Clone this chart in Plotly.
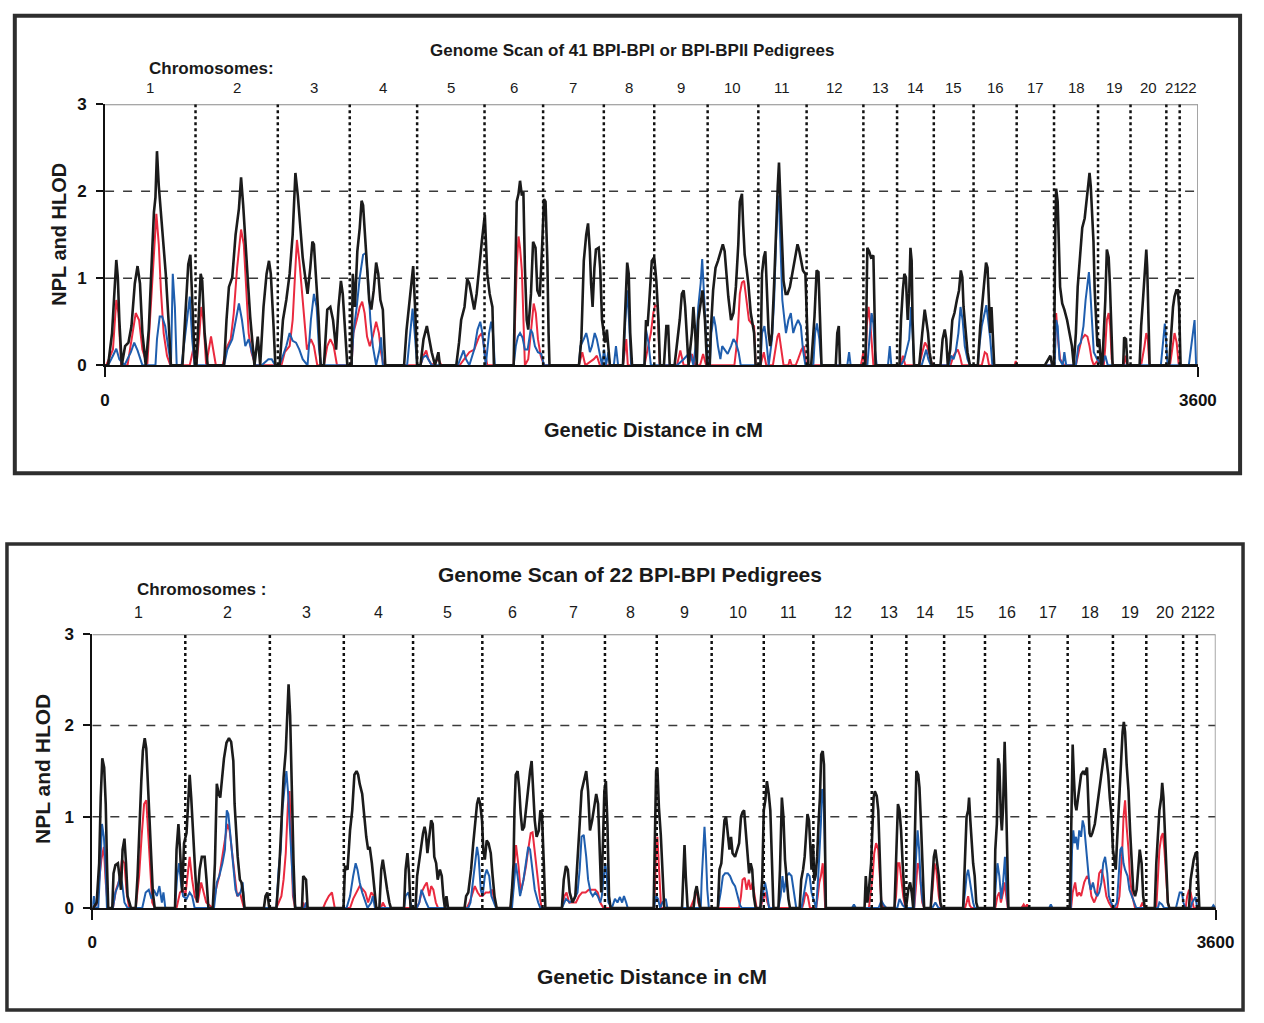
import plotly.graph_objects as go

# ---------------- data ----------------
CHROMOSOMES = [str(i) for i in range(1, 23)]
# chromosome boundaries in cM along the genome (0 .. 3600)
CHR_BOUNDS = [0, 298, 569, 806, 1028, 1250, 1443, 1643, 1809, 1985, 2152, 2311,
              2498, 2609, 2730, 2861, 3003, 3126, 3271, 3378, 3496, 3540, 3600]
Y_TICKS = [0, 1, 2, 3]
X_TICKS = [0, 3600]

# ---- Panel 1: 41 BPI-BPI or BPI-BPII pedigrees (cM, score) ----
TOP_BLACK = [
    (0, 0), (10, 0), (23, 0.37), (31, 0.82), (37, 1.21), (42, 1.01), (47, 0.52), (55, 0), (66, 0.22), (77, 0.26),
    (87, 0.45), (98, 0.94), (107, 1.14), (115, 0.94), (123, 0.37), (134, 0), (144, 0.41), (152, 1.05), (161, 1.76),
    (166, 1.93), (171, 2.46), (177, 2.06), (184, 1.76), (193, 1.39), (200, 1.05), (209, 0.52), (217, 0), (255, 0),
    (263, 0.52), (274, 1.16), (281, 1.27), (290, 0.52), (296, 0), (301, 0), (308, 0.52), (315, 1.05), (320, 0.97),
    (328, 0.37), (338, 0), (392, 0), (400, 0.52), (408, 0.9), (419, 1.01), (430, 1.5), (441, 1.8), (448, 2.16),
    (455, 1.84), (462, 1.39), (471, 0.94), (478, 0.56), (484, 0.3), (492, 0), (503, 0.33), (511, 0), (522, 0.67),
    (532, 1.05), (540, 1.2), (546, 1.05), (554, 0.52), (561, 0), (575, 0), (586, 0.52), (597, 0.75), (608, 1.05),
    (618, 1.5), (627, 2.21), (635, 1.95), (642, 1.61), (651, 1.24), (658, 1.05), (667, 0.82), (676, 1.12),
    (683, 1.42), (688, 1.39), (696, 0.94), (703, 0.56), (710, 0), (721, 0), (732, 0.64), (742, 0.67), (751, 0.52),
    (761, 0.18), (769, 0.67), (777, 0.97), (783, 0.82), (791, 0.37), (798, 0), (812, 0), (816, 1.05), (823, 0.67),
    (831, 1.31), (839, 1.58), (845, 1.89), (850, 1.84), (856, 1.5), (861, 1.24), (870, 0.75), (877, 0.64),
    (885, 0.86), (893, 1.18), (900, 1.05), (907, 0.75), (915, 0.64), (923, 0), (985, 0), (993, 0.4), (1005, 0.8),
    (1015, 1.14), (1022, 0.6), (1028, 0), (1039, 0), (1049, 0.3), (1060, 0.45), (1068, 0.3), (1076, 0.15),
    (1087, 0), (1098, 0.15), (1103, 0), (1157, 0), (1166, 0.26), (1173, 0.52), (1184, 0.67), (1193, 0.99),
    (1200, 0.94), (1209, 0.75), (1216, 0.64), (1224, 0.82), (1232, 1.12), (1241, 1.42), (1251, 1.73),
    (1259, 1.05), (1267, 0.82), (1276, 0.67), (1281, 0), (1346, 0), (1351, 0.94), (1356, 1.88), (1362, 1.97),
    (1367, 2.12), (1373, 1.95), (1378, 1.99), (1383, 1.12), (1389, 0.52), (1394, 0.41), (1403, 0.82),
    (1410, 1.42), (1418, 1.35), (1424, 0.86), (1432, 0.79), (1439, 1.31), (1446, 1.91), (1451, 1.88),
    (1457, 1.2), (1461, 0.37), (1464, 0), (1561, 0), (1569, 0.3), (1577, 1.2), (1585, 1.5), (1591, 1.63),
    (1597, 1.31), (1601, 0.94), (1606, 0.67), (1612, 1.12), (1617, 1.33), (1626, 1.35), (1631, 1.12),
    (1637, 0.52), (1642, 0.37), (1647, 0.26), (1653, 0.41), (1658, 0.22), (1663, 0), (1706, 0), (1714, 0.75),
    (1720, 1.18), (1725, 1.05), (1730, 0.37), (1736, 0), (1777, 0), (1782, 0.52), (1787, 0.45), (1793, 0.75),
    (1801, 1.2), (1809, 1.24), (1816, 0.97), (1823, 0.52), (1828, 0), (1841, 0), (1849, 0.45), (1855, 0.45),
    (1860, 0), (1876, 0), (1884, 0.22), (1893, 0.52), (1900, 0.82), (1906, 0.86), (1911, 0.67), (1917, 0.22),
    (1922, 0), (1933, 0.37), (1938, 0.67), (1944, 0.37), (1949, 0), (1954, 0.52), (1962, 0.71), (1968, 0.86),
    (1976, 0.52), (1983, 0), (1992, 0), (1995, 0.37), (2003, 0.86), (2011, 1.12), (2019, 1.2), (2027, 1.31),
    (2035, 1.39), (2041, 1.31), (2046, 1.05), (2053, 0.79), (2062, 0.52), (2070, 0.6), (2078, 0.9), (2086, 1.39),
    (2091, 1.88), (2098, 1.97), (2102, 1.61), (2107, 1.27), (2113, 1.12), (2119, 0.94), (2127, 0.6),
    (2132, 0.48), (2138, 0.37), (2143, 0), (2159, 0), (2164, 1.05), (2170, 1.24), (2175, 1.31), (2181, 0.75),
    (2186, 0.37), (2191, 0.22), (2197, 0.37), (2204, 0.94), (2211, 1.69), (2216, 2.06), (2220, 2.33),
    (2225, 1.88), (2229, 1.31), (2235, 0.97), (2242, 0.82), (2248, 0.82), (2256, 0.9), (2264, 1.05),
    (2272, 1.2), (2281, 1.39), (2286, 1.33), (2294, 1.2), (2299, 1.09), (2307, 1.05), (2312, 0.52), (2317, 0),
    (2326, 0), (2337, 0.56), (2344, 1.09), (2350, 1.07), (2355, 0.56), (2360, 0), (2407, 0), (2412, 0.37),
    (2417, 0.45), (2421, 0), (2504, 0), (2507, 0.37), (2511, 1.35), (2517, 1.31), (2523, 1.24), (2531, 1.26),
    (2534, 0.75), (2538, 0), (2617, 0), (2622, 0.52), (2628, 0.86), (2633, 1.05), (2638, 1.01), (2644, 0.52),
    (2649, 0.82), (2653, 1.35), (2657, 1.2), (2660, 0.52), (2665, 0), (2682, 0), (2692, 0.37), (2700, 0.64),
    (2705, 0.52), (2711, 0.37), (2716, 0.15), (2723, 0), (2752, 0), (2759, 0.3), (2766, 0.41), (2771, 0.3),
    (2776, 0), (2784, 0.18), (2791, 0.52), (2798, 0.6), (2806, 0.75), (2813, 0.86), (2819, 1.09), (2824, 1.01),
    (2828, 0.67), (2835, 0.37), (2841, 0.15), (2849, 0), (2875, 0), (2883, 0.45), (2891, 0.79), (2896, 1.01),
    (2902, 1.18), (2907, 1.12), (2912, 0.75), (2916, 0.37), (2920, 0.67), (2924, 0.37), (2929, 0), (3096, 0),
    (3106, 0.07), (3114, 0.11), (3120, 0), (3126, 0), (3130, 1.5), (3133, 2.03), (3138, 1.88), (3142, 1.35),
    (3146, 0.9), (3153, 0.71), (3160, 0.64), (3169, 0.52), (3176, 0.37), (3185, 0.22), (3191, 0), (3198, 0.37),
    (3204, 0.9), (3211, 1.27), (3219, 1.58), (3227, 1.69), (3233, 1.88), (3239, 2.14), (3243, 2.21),
    (3247, 2.06), (3252, 1.69), (3256, 1.42), (3260, 0.86), (3265, 0.52), (3269, 0.22), (3275, 0.3), (3281, 0),
    (3285, 0), (3289, 0.3), (3295, 0.75), (3300, 1.33), (3306, 1.24), (3310, 0.94), (3314, 0.37), (3319, 0),
    (3354, 0), (3357, 0.32), (3363, 0.3), (3368, 0), (3408, 0), (3413, 0.45), (3419, 0.75), (3424, 1.05),
    (3430, 1.33), (3433, 1.12), (3437, 0.52), (3441, 0), (3505, 0), (3512, 0.37), (3518, 0.67), (3523, 0.79),
    (3529, 0.86), (3534, 0.86), (3538, 0.67), (3543, 0), (3600, 0),
]
TOP_RED = [
    (0, 0), (4, 0), (26, 0.18), (37, 0.75), (44, 0.6), (53, 0), (74, 0), (91, 0.37), (101, 0.6), (112, 0.52),
    (123, 0.18), (139, 0), (150, 0.67), (161, 1.27), (169, 1.74), (177, 1.39), (184, 0.86), (193, 0.37),
    (204, 0.11), (215, 0), (279, 0), (290, 0.18), (301, 0), (311, 0.37), (317, 0.67), (324, 0.52), (333, 0),
    (349, 0.33), (357, 0.15), (365, 0), (387, 0), (403, 0.22), (414, 0.3), (424, 0.6), (435, 1.12), (448, 1.56),
    (457, 1.39), (464, 0.9), (473, 0.37), (482, 0.15), (495, 0), (581, 0), (592, 0.15), (608, 0.22), (618, 0.52),
    (626, 1.05), (632, 1.44), (640, 1.2), (648, 0.86), (656, 0.52), (665, 0.18), (678, 0.3), (688, 0.22),
    (699, 0), (721, 0), (732, 0.22), (742, 0.3), (753, 0.22), (764, 0), (812, 0), (818, 0.37), (829, 0.52),
    (839, 0.67), (847, 0.73), (855, 0.6), (863, 0.33), (872, 0.22), (882, 0.33), (893, 0.5), (902, 0.37),
    (909, 0.15), (917, 0), (1039, 0), (1049, 0.11), (1058, 0.17), (1065, 0.07), (1076, 0), (1098, 0.07),
    (1108, 0), (1168, 0), (1184, 0.07), (1200, 0.15), (1216, 0.18), (1232, 0.33), (1241, 0.37), (1249, 0.18),
    (1259, 0), (1346, 0), (1351, 0.52), (1356, 1.12), (1362, 1.48), (1367, 1.35), (1373, 1.09), (1378, 0.56),
    (1383, 0), (1394, 0.07), (1405, 0.45), (1412, 0.71), (1419, 0.6), (1426, 0.3), (1435, 0.11), (1446, 0),
    (1561, 0), (1572, 0.15), (1582, 0), (1610, 0.07), (1620, 0.11), (1630, 0), (1706, 0), (1717, 0.3),
    (1722, 0), (1777, 0), (1787, 0.18), (1798, 0.37), (1806, 0.6), (1812, 0.69), (1820, 0.67), (1827, 0),
    (1884, 0), (1895, 0.17), (1906, 0), (1922, 0), (1933, 0.13), (1944, 0), (1960, 0), (1970, 0.13), (1980, 0),
    (2073, 0), (2079, 0.18), (2084, 0.37), (2091, 0.82), (2098, 0.95), (2105, 0.97), (2113, 0.75), (2121, 0.52),
    (2130, 0.48), (2138, 0.45), (2143, 0), (2159, 0), (2170, 0.15), (2178, 0), (2200, 0), (2207, 0.15),
    (2215, 0.33), (2220, 0.37), (2227, 0.18), (2235, 0), (2251, 0), (2256, 0.07), (2262, 0), (2275, 0),
    (2283, 0.07), (2294, 0.18), (2302, 0.22), (2310, 0), (2490, 0), (2498, 0.15), (2502, 0), (2506, 0),
    (2509, 0.45), (2515, 0.67), (2520, 0.52), (2525, 0.22), (2531, 0), (2620, 0), (2628, 0.11), (2636, 0),
    (2682, 0), (2692, 0.15), (2701, 0.26), (2708, 0.22), (2716, 0.11), (2725, 0), (2785, 0), (2795, 0.11),
    (2802, 0.15), (2809, 0.18), (2816, 0.11), (2823, 0), (2888, 0), (2898, 0.15), (2905, 0.13), (2912, 0),
    (2996, 0), (3000, 0.05), (3004, 0), (3126, 0), (3130, 0.52), (3133, 0.6), (3139, 0.3), (3146, 0.07),
    (3160, 0), (3198, 0), (3209, 0.18), (3217, 0.3), (3228, 0.35), (3236, 0.33), (3243, 0.22), (3250, 0.07),
    (3257, 0), (3273, 0.07), (3281, 0), (3290, 0), (3295, 0.22), (3300, 0.52), (3306, 0.6), (3311, 0.45),
    (3316, 0.07), (3321, 0), (3357, 0), (3362, 0.11), (3368, 0), (3413, 0), (3424, 0.22), (3430, 0.37),
    (3435, 0.3), (3440, 0), (3508, 0), (3516, 0.22), (3523, 0.37), (3530, 0.26), (3537, 0), (3600, 0),
]
TOP_BLUE = [
    (0, 0), (10, 0), (26, 0.11), (37, 0.19), (47, 0.07), (64, 0), (85, 0.15), (96, 0.26), (107, 0.17), (123, 0),
    (166, 0), (171, 0.3), (180, 0.56), (188, 0.56), (198, 0.45), (209, 0.18), (217, 0), (223, 1.05), (230, 0.67),
    (236, 0), (252, 0), (270, 0.52), (279, 0.79), (287, 0.3), (295, 0), (392, 0), (403, 0.18), (419, 0.3),
    (430, 0.52), (441, 0.71), (451, 0.52), (462, 0.22), (473, 0.3), (484, 0.15), (495, 0), (516, 0),
    (538, 0.07), (549, 0.07), (560, 0), (575, 0), (597, 0.22), (608, 0.37), (618, 0.28), (629, 0.26),
    (640, 0.18), (651, 0.07), (667, 0), (678, 0.52), (688, 0.82), (697, 0.67), (705, 0.18), (712, 0), (812, 0),
    (818, 0.37), (829, 0.67), (839, 1.01), (850, 1.27), (859, 1.29), (866, 1.01), (874, 0.52), (882, 0.22),
    (893, 0), (904, 0.18), (909, 0.32), (915, 0), (995, 0), (1006, 0.37), (1013, 0.65), (1020, 0.37), (1028, 0),
    (1039, 0), (1047, 0.09), (1058, 0.11), (1065, 0.07), (1076, 0), (1162, 0), (1170, 0.07), (1181, 0.17),
    (1189, 0.07), (1200, 0), (1216, 0.18), (1227, 0.41), (1236, 0.5), (1243, 0.37), (1254, 0), (1265, 0.37),
    (1272, 0.5), (1278, 0.37), (1284, 0), (1346, 0), (1353, 0.22), (1360, 0.33), (1367, 0.37), (1375, 0.32),
    (1383, 0.18), (1392, 0.18), (1402, 0.41), (1408, 0.37), (1416, 0.22), (1426, 0.15), (1437, 0.13),
    (1446, 0), (1561, 0), (1566, 0.22), (1577, 0.3), (1585, 0.37), (1590, 0.3), (1597, 0.15), (1604, 0.22),
    (1613, 0.37), (1620, 0.3), (1629, 0.15), (1637, 0), (1644, 0.18), (1650, 0), (1658, 0.15), (1663, 0),
    (1676, 0), (1683, 0.22), (1690, 0), (1706, 0), (1714, 0.52), (1720, 0.86), (1726, 0.52), (1733, 0),
    (1777, 0), (1782, 0.41), (1790, 0.26), (1798, 0), (1884, 0), (1906, 0.07), (1927, 0.15), (1938, 0),
    (1949, 0.33), (1954, 0.67), (1962, 0.94), (1967, 1.22), (1973, 0.82), (1979, 0.37), (1987, 0), (1992, 0),
    (1997, 0.37), (2005, 0.56), (2011, 0.45), (2019, 0.22), (2027, 0.07), (2033, 0.22), (2041, 0.18),
    (2051, 0.13), (2062, 0.22), (2070, 0.3), (2078, 0.26), (2087, 0.15), (2094, 0), (2159, 0), (2164, 0.37),
    (2172, 0.45), (2178, 0.3), (2186, 0), (2197, 0.3), (2204, 0.75), (2211, 1.5), (2216, 1.95), (2220, 1.88),
    (2226, 1.27), (2231, 0.75), (2238, 0.52), (2243, 0.37), (2251, 0.52), (2259, 0.6), (2267, 0.37),
    (2274, 0.45), (2283, 0.52), (2292, 0.45), (2299, 0.18), (2307, 0), (2333, 0), (2339, 0.37), (2345, 0.48),
    (2353, 0.3), (2360, 0), (2445, 0), (2451, 0.15), (2456, 0), (2511, 0), (2518, 0.3), (2525, 0.6),
    (2531, 0.48), (2536, 0.18), (2542, 0), (2579, 0), (2585, 0.22), (2590, 0), (2622, 0), (2633, 0.07),
    (2649, 0.3), (2655, 0.67), (2660, 0.37), (2665, 0), (2690, 0), (2705, 0.18), (2712, 0.07), (2720, 0),
    (2780, 0), (2787, 0.11), (2795, 0.07), (2802, 0.15), (2811, 0.37), (2818, 0.67), (2825, 0.52),
    (2832, 0.22), (2841, 0.07), (2849, 0), (2875, 0), (2880, 0.22), (2888, 0.45), (2896, 0.6), (2903, 0.69),
    (2909, 0.52), (2916, 0.3), (2923, 0), (3128, 0), (3133, 0.52), (3138, 0.45), (3144, 0.07), (3155, 0),
    (3160, 0.15), (3166, 0), (3198, 0), (3206, 0.22), (3214, 0.26), (3223, 0.45), (3230, 0.75), (3237, 0.94),
    (3241, 1.07), (3246, 0.82), (3252, 0.37), (3257, 0.15), (3268, 0.07), (3284, 0), (3295, 0.11), (3303, 0),
    (3478, 0), (3487, 0.37), (3491, 0.48), (3495, 0.3), (3500, 0), (3570, 0), (3577, 0.22), (3584, 0.41),
    (3589, 0.52), (3594, 0), (3600, 0),
]

# ---- Panel 2: 22 BPI-BPI pedigrees (cM, score) ----
BOT_BLACK = [
    (0, 0), (3, 0), (14, 0.06), (22, 0.49), (27, 1.21), (32, 1.64), (38, 1.54), (43, 1.14), (47, 0.49), (51, 0),
    (64, 0), (68, 0.38), (74, 0.47), (82, 0.49), (87, 0.35), (92, 0.2), (97, 0.64), (103, 0.76), (108, 0.49),
    (113, 0.13), (124, 0), (139, 0), (145, 0.35), (152, 1.07), (157, 1.39), (162, 1.72), (168, 1.86),
    (173, 1.75), (178, 1.39), (183, 1.07), (189, 0.56), (194, 0.17), (200, 0), (265, 0), (270, 0.64),
    (276, 0.92), (281, 0.64), (288, 0.17), (294, 0.71), (302, 0.82), (307, 1.14), (312, 1.46), (317, 1.21),
    (323, 0.78), (330, 0.38), (336, 0.06), (344, 0.42), (351, 0.56), (360, 0.56), (366, 0.31), (372, 0),
    (386, 0), (393, 0.49), (399, 1.36), (405, 1.25), (410, 1.21), (417, 1.43), (422, 1.64), (430, 1.81),
    (438, 1.86), (445, 1.82), (452, 1.61), (456, 1.14), (461, 0.82), (466, 0.56), (473, 0.31), (478, 0.28),
    (483, 0.17), (488, 0), (550, 0), (555, 0.13), (561, 0.17), (567, 0), (590, 0), (599, 0.42), (606, 0.92),
    (613, 1.43), (620, 1.72), (624, 2.07), (629, 2.45), (634, 2.11), (639, 1.28), (645, 0.49), (650, 0),
    (672, 0), (676, 0.35), (685, 0.31), (690, 0), (805, 0), (810, 0.46), (818, 0.42), (826, 0.85), (833, 1.07),
    (840, 1.46), (847, 1.5), (852, 1.46), (857, 1.36), (865, 1.25), (871, 1.0), (878, 0.78), (884, 0.64),
    (889, 0.67), (896, 0.49), (903, 0.2), (910, 0), (920, 0), (926, 0.42), (931, 0.53), (938, 0.35),
    (945, 0.2), (952, 0.06), (957, 0), (999, 0), (1004, 0.42), (1010, 0.6), (1015, 0.38), (1020, 0), (1036, 0),
    (1041, 0.35), (1048, 0.53), (1055, 0.71), (1060, 0.82), (1065, 0.89), (1069, 0.82), (1074, 0.6),
    (1080, 0.82), (1086, 0.96), (1091, 0.92), (1096, 0.56), (1102, 0.49), (1107, 0.31), (1114, 0.42),
    (1120, 0.35), (1125, 0.13), (1130, 0), (1135, 0.13), (1140, 0), (1193, 0), (1198, 0.13), (1205, 0.17),
    (1214, 0.42), (1221, 0.71), (1227, 0.96), (1233, 1.14), (1238, 1.21), (1243, 1.14), (1249, 0.96),
    (1253, 0.64), (1258, 0.53), (1264, 0.74), (1270, 0.71), (1277, 0.6), (1283, 0.35), (1289, 0.13), (1296, 0),
    (1340, 0), (1345, 0.2), (1350, 0.49), (1353, 1.07), (1357, 1.46), (1363, 1.5), (1368, 1.32), (1373, 1.03),
    (1378, 0.85), (1384, 0.89), (1390, 1.1), (1397, 1.36), (1403, 1.5), (1408, 1.61), (1413, 1.28),
    (1418, 0.96), (1424, 0.78), (1431, 0.85), (1436, 1.07), (1441, 1.03), (1447, 0.49), (1452, 0), (1505, 0),
    (1511, 0.31), (1518, 0.46), (1524, 0.42), (1530, 0.17), (1539, 0.06), (1548, 0.13), (1555, 0.49),
    (1562, 0.92), (1568, 1.28), (1575, 1.39), (1583, 1.5), (1589, 1.28), (1595, 0.85), (1602, 0.96),
    (1609, 1.1), (1615, 1.25), (1621, 1.14), (1626, 0.6), (1631, 0.17), (1636, 0.64), (1641, 1.28),
    (1646, 1.39), (1651, 0.92), (1656, 0.13), (1661, 0), (1799, 0), (1803, 0.85), (1807, 1.5), (1811, 1.54),
    (1816, 1.1), (1822, 0.8), (1828, 0.4), (1833, 0), (1890, 0), (1895, 0.35), (1898, 0.69), (1902, 0.35),
    (1908, 0), (1927, 0), (1932, 0.17), (1937, 0.24), (1942, 0.13), (1948, 0), (2005, 0), (2010, 0.42),
    (2016, 0.49), (2021, 0.78), (2026, 0.96), (2031, 1.0), (2037, 0.78), (2042, 0.64), (2047, 0.78),
    (2052, 0.6), (2060, 0.56), (2066, 0.64), (2073, 0.71), (2079, 1.0), (2084, 1.05), (2089, 1.07),
    (2094, 0.82), (2100, 0.56), (2105, 0.38), (2110, 0.49), (2115, 0.42), (2120, 0.13), (2126, 0), (2141, 0),
    (2147, 0.31), (2152, 1.07), (2157, 1.18), (2162, 1.39), (2168, 1.25), (2173, 1.07), (2178, 0.49),
    (2183, 0), (2199, 0), (2204, 0.42), (2210, 1.21), (2215, 1.0), (2220, 0.53), (2225, 0.31), (2231, 0.1),
    (2236, 0), (2267, 0), (2272, 0.31), (2278, 0.42), (2283, 0.56), (2288, 0.85), (2292, 1.03), (2297, 0.96),
    (2301, 0.64), (2305, 0.42), (2310, 0.7), (2314, 0.3), (2318, 0.35), (2323, 0.56), (2328, 0.96),
    (2332, 1.21), (2336, 1.68), (2341, 1.72), (2345, 1.57), (2348, 0.85), (2351, 0), (2475, 0), (2479, 0.35),
    (2484, 0.06), (2489, 0.2), (2496, 0.49), (2500, 0.96), (2504, 1.21), (2508, 1.28), (2514, 1.23),
    (2519, 1.07), (2524, 0.49), (2529, 0), (2571, 0), (2576, 0.49), (2582, 1.14), (2587, 1.07), (2592, 0.85),
    (2597, 0.49), (2603, 0.13), (2608, 0), (2615, 0.2), (2621, 0.28), (2626, 0.17), (2631, 0), (2636, 0.92),
    (2641, 1.5), (2647, 1.46), (2651, 1.32), (2655, 1.0), (2660, 0.42), (2666, 0), (2687, 0), (2692, 0.35),
    (2697, 0.56), (2702, 0.64), (2707, 0.49), (2713, 0.35), (2718, 0.06), (2723, 0), (2791, 0), (2797, 0.56),
    (2802, 1.0), (2807, 1.07), (2810, 1.21), (2814, 0.96), (2819, 0.64), (2823, 0.49), (2828, 0.35),
    (2833, 0.06), (2838, 0), (2891, 0), (2894, 0.64), (2899, 0.92), (2903, 1.64), (2907, 1.57), (2912, 1.0),
    (2915, 0.85), (2919, 1.1), (2924, 1.82), (2928, 1.28), (2932, 0.49), (2936, 0), (3133, 0), (3137, 0.85),
    (3142, 1.79), (3146, 1.43), (3150, 1.14), (3154, 1.07), (3158, 1.18), (3163, 1.36), (3169, 1.46),
    (3176, 1.5), (3181, 1.46), (3188, 1.54), (3192, 1.14), (3196, 0.82), (3200, 0.78), (3205, 0.82),
    (3213, 0.92), (3221, 1.14), (3227, 1.28), (3234, 1.46), (3240, 1.64), (3245, 1.75), (3250, 1.64),
    (3256, 1.46), (3261, 1.21), (3266, 1.03), (3271, 0.64), (3276, 0.49), (3280, 0.42), (3284, 0.71),
    (3289, 1.03), (3292, 1.25), (3297, 1.64), (3302, 1.93), (3306, 2.04), (3310, 1.93), (3315, 1.57),
    (3321, 1.28), (3326, 0.85), (3331, 0.49), (3336, 0.2), (3342, 0.13), (3347, 0.2), (3352, 0.42),
    (3357, 0.64), (3363, 0.49), (3368, 0.13), (3373, 0), (3405, 0), (3410, 0.49), (3415, 0.85), (3420, 1.07),
    (3426, 1.21), (3429, 1.37), (3433, 1.21), (3437, 0.92), (3441, 0.49), (3447, 0.06), (3452, 0), (3515, 0),
    (3520, 0.31), (3525, 0.42), (3530, 0.53), (3536, 0.6), (3541, 0.6), (3544, 0.31), (3548, 0), (3600, 0),
]
BOT_RED = [
    (0, 0), (3, 0), (14, 0.04), (29, 0.53), (37, 0.67), (43, 0.28), (50, 0), (66, 0), (76, 0.2), (87, 0.31),
    (95, 0.53), (103, 0.49), (110, 0.17), (118, 0), (139, 0), (150, 0.35), (158, 0.78), (166, 1.14),
    (173, 1.18), (179, 0.85), (186, 0.42), (192, 0.06), (200, 0), (270, 0), (281, 0.17), (291, 0.2),
    (298, 0.13), (307, 0.42), (312, 0.56), (320, 0.31), (328, 0.13), (338, 0.06), (349, 0.28), (357, 0.17),
    (365, 0.06), (386, 0), (396, 0.2), (407, 0.35), (417, 0.56), (426, 0.78), (433, 0.92), (440, 0.85),
    (449, 0.56), (457, 0.35), (464, 0.13), (473, 0.17), (480, 0.06), (486, 0), (590, 0), (606, 0.13),
    (613, 0.31), (620, 0.6), (627, 1.14), (632, 1.28), (637, 0.78), (643, 0.13), (650, 0), (672, 0),
    (676, 0.06), (682, 0), (740, 0), (747, 0.06), (758, 0.13), (768, 0.17), (777, 0), (826, 0), (836, 0.1),
    (847, 0.17), (857, 0.24), (868, 0.2), (875, 0.17), (884, 0.06), (894, 0.17), (903, 0.13), (910, 0),
    (925, 0), (931, 0.06), (940, 0), (1040, 0), (1048, 0.06), (1055, 0.17), (1065, 0.24), (1072, 0.28),
    (1080, 0.13), (1086, 0.24), (1093, 0.2), (1101, 0.06), (1108, 0), (1200, 0), (1209, 0.06), (1219, 0.17),
    (1226, 0.24), (1235, 0.17), (1243, 0.13), (1250, 0.13), (1261, 0.17), (1272, 0.17), (1282, 0.2),
    (1289, 0.06), (1296, 0), (1340, 0), (1348, 0.17), (1353, 0.49), (1358, 0.69), (1366, 0.46), (1373, 0.17),
    (1382, 0.31), (1390, 0.46), (1397, 0.64), (1405, 0.82), (1411, 0.83), (1418, 0.6), (1426, 0.35),
    (1434, 0.13), (1440, 0), (1505, 0), (1513, 0.13), (1520, 0.17), (1528, 0.06), (1550, 0.06), (1560, 0.13),
    (1570, 0.17), (1581, 0.17), (1591, 0.2), (1602, 0.2), (1612, 0.2), (1620, 0.17), (1628, 0.06), (1638, 0),
    (1800, 0), (1804, 0.3), (1807, 0.64), (1811, 0.78), (1817, 0.42), (1823, 0), (1917, 0), (1927, 0.08),
    (1932, 0.13), (1937, 0.22), (1942, 0.06), (1948, 0), (2073, 0), (2079, 0.13), (2084, 0.31), (2091, 0.33),
    (2097, 0.2), (2104, 0.31), (2110, 0.2), (2116, 0.28), (2123, 0.13), (2129, 0), (2141, 0), (2147, 0.06),
    (2157, 0.17), (2164, 0.06), (2171, 0), (2275, 0), (2280, 0.06), (2286, 0.17), (2293, 0.13), (2300, 0),
    (2320, 0), (2325, 0.13), (2330, 0.28), (2335, 0.35), (2341, 0.49), (2345, 0.28), (2349, 0), (2489, 0),
    (2496, 0.17), (2501, 0.35), (2506, 0.6), (2512, 0.71), (2519, 0.64), (2524, 0.31), (2529, 0.06),
    (2537, 0), (2571, 0), (2576, 0.13), (2582, 0.49), (2587, 0.49), (2592, 0.31), (2599, 0.13), (2606, 0),
    (2634, 0), (2639, 0.2), (2645, 0.49), (2650, 0.46), (2655, 0.2), (2660, 0.06), (2666, 0), (2687, 0),
    (2693, 0.2), (2699, 0.49), (2705, 0.42), (2713, 0.13), (2720, 0), (2797, 0), (2802, 0.06), (2807, 0.13),
    (2812, 0.03), (2818, 0), (2894, 0), (2901, 0.13), (2907, 0.17), (2912, 0.06), (2919, 0.17), (2924, 0.28),
    (2929, 0.13), (2934, 0), (2978, 0), (2985, 0.04), (2992, 0), (2996, 0.04), (3001, 0), (3137, 0),
    (3142, 0.17), (3150, 0.28), (3156, 0.13), (3163, 0.17), (3169, 0.13), (3179, 0.28), (3188, 0.35),
    (3195, 0.31), (3202, 0.13), (3211, 0.06), (3219, 0.13), (3227, 0.38), (3235, 0.42), (3242, 0.31),
    (3250, 0.13), (3258, 0.06), (3268, 0), (3284, 0), (3292, 0.13), (3300, 0.56), (3305, 1.0), (3310, 1.18),
    (3315, 0.89), (3321, 0.64), (3326, 0.31), (3333, 0.13), (3342, 0), (3358, 0), (3366, 0.06), (3373, 0),
    (3410, 0), (3415, 0.31), (3420, 0.64), (3426, 0.78), (3431, 0.82), (3436, 0.64), (3441, 0.35),
    (3447, 0.06), (3452, 0), (3504, 0), (3509, 0.13), (3515, 0.2), (3520, 0.17), (3525, 0.06), (3530, 0),
    (3600, 0),
]
BOT_BLUE = [
    (0, 0), (5, 0.13), (11, 0), (19, 0), (26, 0.49), (31, 0.92), (37, 0.78), (42, 0.49), (47, 0), (66, 0),
    (74, 0.17), (82, 0.24), (89, 0.35), (95, 0.28), (103, 0.06), (113, 0), (160, 0), (171, 0.17), (181, 0.2),
    (190, 0.1), (197, 0.2), (207, 0.13), (215, 0.24), (223, 0.06), (228, 0.17), (234, 0), (265, 0),
    (272, 0.35), (278, 0.49), (284, 0.28), (291, 0.13), (302, 0.1), (312, 0.17), (320, 0.13), (328, 0),
    (390, 0), (399, 0.28), (407, 0.35), (417, 0.49), (425, 0.64), (431, 1.07), (436, 1.03), (443, 0.78),
    (451, 0.49), (459, 0.2), (466, 0.13), (475, 0.17), (482, 0.28), (487, 0), (590, 0), (597, 0.42),
    (604, 0.64), (609, 1.07), (615, 1.28), (622, 1.5), (627, 1.28), (632, 0.92), (638, 0.64), (645, 0.13),
    (652, 0), (680, 0), (685, 0.06), (690, 0), (815, 0), (826, 0.13), (836, 0.35), (844, 0.49), (850, 0.42),
    (857, 0.28), (865, 0.17), (873, 0.1), (882, 0), (894, 0.06), (899, 0.13), (906, 0), (999, 0), (1004, 0.13),
    (1013, 0.17), (1020, 0.06), (1025, 0), (1040, 0), (1048, 0.06), (1055, 0.2), (1062, 0.13), (1070, 0.06),
    (1078, 0), (1205, 0), (1212, 0.06), (1219, 0.28), (1226, 0.49), (1233, 0.67), (1238, 0.56), (1245, 0.2),
    (1251, 0.13), (1258, 0.35), (1264, 0.42), (1272, 0.35), (1279, 0.13), (1287, 0.06), (1294, 0), (1345, 0),
    (1348, 0.13), (1353, 0.35), (1357, 0.49), (1363, 0.35), (1371, 0.13), (1382, 0.31), (1390, 0.49),
    (1397, 0.67), (1403, 0.64), (1410, 0.42), (1418, 0.2), (1429, 0.06), (1436, 0), (1505, 0), (1518, 0.1),
    (1530, 0.06), (1545, 0.1), (1555, 0.17), (1562, 0.42), (1568, 0.78), (1575, 0.8), (1583, 0.56),
    (1589, 0.31), (1597, 0.17), (1604, 0.13), (1612, 0.17), (1620, 0.13), (1628, 0.06), (1633, 0.13),
    (1638, 0.31), (1644, 0.49), (1649, 0.35), (1654, 0.06), (1665, 0), (1675, 0.1), (1683, 0.06),
    (1691, 0.12), (1698, 0.06), (1704, 0.13), (1711, 0.06), (1716, 0), (1800, 0), (1807, 0.13), (1813, 0.1),
    (1820, 0), (1827, 0.06), (1838, 0.1), (1843, 0), (1950, 0), (1953, 0.31), (1958, 0.64), (1962, 0.89),
    (1966, 0.64), (1971, 0.2), (1976, 0), (2005, 0), (2014, 0.17), (2021, 0.35), (2028, 0.38), (2037, 0.38),
    (2044, 0.35), (2052, 0.28), (2060, 0.24), (2068, 0.13), (2076, 0.03), (2082, 0), (2141, 0), (2150, 0.17),
    (2156, 0.28), (2162, 0.17), (2169, 0), (2199, 0), (2206, 0.13), (2212, 0.35), (2217, 0.17), (2225, 0.35),
    (2233, 0.38), (2241, 0.35), (2249, 0.13), (2256, 0), (2273, 0), (2280, 0.13), (2286, 0.28), (2292, 0.38),
    (2299, 0.35), (2305, 0.17), (2311, 0.1), (2320, 0), (2326, 0.31), (2330, 0.56), (2335, 0.92), (2339, 1.3),
    (2343, 1.28), (2347, 0.78), (2351, 0), (2435, 0), (2441, 0.04), (2447, 0), (2520, 0), (2529, 0.08),
    (2537, 0.03), (2545, 0), (2580, 0), (2587, 0.1), (2597, 0.03), (2606, 0), (2634, 0), (2639, 0.49),
    (2645, 0.85), (2650, 0.64), (2655, 0.28), (2660, 0.1), (2666, 0), (2692, 0), (2702, 0.06), (2712, 0),
    (2791, 0), (2797, 0.17), (2802, 0.35), (2807, 0.42), (2812, 0.31), (2818, 0.13), (2823, 0.06), (2828, 0),
    (2891, 0), (2896, 0.28), (2901, 0.49), (2907, 0.35), (2913, 0.1), (2919, 0.28), (2925, 0.56), (2930, 0.2),
    (2935, 0), (3067, 0), (3072, 0.04), (3077, 0), (3136, 0), (3140, 0.64), (3144, 0.85), (3148, 0.71),
    (3153, 0.78), (3158, 0.64), (3163, 0.85), (3169, 0.78), (3174, 0.96), (3179, 0.89), (3184, 0.67),
    (3190, 0.42), (3195, 0.28), (3200, 0.2), (3207, 0.28), (3214, 0.17), (3221, 0.13), (3227, 0.17),
    (3234, 0.28), (3240, 0.49), (3246, 0.56), (3253, 0.38), (3258, 0.13), (3265, 0.06), (3274, 0),
    (3284, 0.06), (3289, 0.35), (3295, 0.64), (3300, 0.67), (3305, 0.49), (3310, 0.42), (3318, 0.35),
    (3324, 0.2), (3331, 0.13), (3338, 0.06), (3346, 0), (3415, 0), (3420, 0.06), (3428, 0.04), (3435, 0),
    (3473, 0), (3478, 0.06), (3485, 0.17), (3492, 0.17), (3497, 0.06), (3503, 0), (3520, 0), (3525, 0.06),
    (3536, 0.12), (3541, 0), (3588, 0), (3593, 0.03), (3598, 0), (3600, 0),
]

TITLE_TOP = "Genome Scan of 41 BPI-BPI or BPI-BPII Pedigrees"
TITLE_BOT = "Genome Scan of 22 BPI-BPI Pedigrees"
CHROM_LABEL_TOP = "Chromosomes:"
CHROM_LABEL_BOT = "Chromosomes :"
X_TITLE = "Genetic Distance in cM"
Y_TITLE = "NPL and HLOD"

# ---------------- figure ----------------
W, H = 1264, 1023   # design frame (pixels) used to express layout as paper fractions
FONT = "Liberation Sans, Arial, Helvetica, sans-serif"
C_BLACK, C_RED, C_BLUE = "#1b1b1b", "#ea2a3f", "#1f5eae"


def px(x):
    return x / W


def py(y):
    return 1 - y / H


fig = go.Figure()

panels = [
    # (x-axis id, y-axis id, design box [x0, x1, ytop, ybottom], series)
    ("x", "y", (102, 1216, 97, 363), (TOP_BLACK, TOP_RED, TOP_BLUE)),
    ("x2", "y2", (89, 1234, 637, 916), (BOT_BLACK, BOT_RED, BOT_BLUE)),
]

for xa, ya, box, series in panels:
    for data, col, wd in ((series[1], C_RED, 2.0), (series[2], C_BLUE, 2.0), (series[0], C_BLACK, 2.6)):
        fig.add_trace(go.Scatter(
            x=[p[0] for p in data], y=[p[1] for p in data], mode="lines",
            line=dict(color=col, width=wd), xaxis=xa, yaxis=ya,
            showlegend=False, hoverinfo="skip"))

axis_common_x = dict(range=[0, 3600], showgrid=False, zeroline=False, showline=True,
                     linecolor="#111", linewidth=2, ticks="outside", ticklen=10, tickwidth=2,
                     tickcolor="#111", tickvals=X_TICKS, ticktext=[str(v) for v in X_TICKS],
                     tickfont=dict(family=FONT, size=17, color="#111", weight="bold"),
                     ticklabelstandoff=8, layer="above traces", fixedrange=True)
axis_common_y = dict(range=[0, 3], showgrid=False, zeroline=False, showline=True,
                     linecolor="#111", linewidth=2, ticks="outside", ticklen=7, tickwidth=2,
                     tickcolor="#111", tickvals=Y_TICKS,
                     tickfont=dict(family=FONT, size=17, color="#111", weight="bold"),
                     ticklabelstandoff=6, layer="above traces", fixedrange=True)

(x0a, x1a, yta, yba) = panels[0][2]
(x0b, x1b, ytb, ybb) = panels[1][2]
fig.update_layout(
    autosize=True, margin=dict(l=0, r=0, t=0, b=0, pad=0),
    paper_bgcolor="white", plot_bgcolor="white", showlegend=False,
    xaxis=dict(domain=[px(x0a), px(x1a)], anchor="y", **axis_common_x),
    yaxis=dict(domain=[py(yba), py(yta)], anchor="x", **axis_common_y),
    xaxis2=dict(domain=[px(x0b), px(x1b)], anchor="y2", **axis_common_x),
    yaxis2=dict(domain=[py(ybb), py(ytb)], anchor="x2", **axis_common_y),
)

shapes = []
for xr, yr in (("x", "y"), ("x2", "y2")):
    for yv in (1, 2):
        shapes.append(dict(type="line", xref=xr, yref=yr, x0=0, x1=3600, y0=yv, y1=yv,
                           line=dict(color="#3a3a3a", width=1.5, dash="dash"), layer="below"))
    shapes.append(dict(type="line", xref=xr, yref=yr, x0=0, x1=3600, y0=3, y1=3,
                       line=dict(color="#8a8a8a", width=2), layer="below"))
    shapes.append(dict(type="line", xref=xr, yref=yr, x0=3600, x1=3600, y0=0, y1=3,
                       line=dict(color="#8a8a8a", width=1.5), layer="below"))
    for b in CHR_BOUNDS[1:-1]:
        shapes.append(dict(type="line", xref=xr, yref=yr, x0=b, x1=b, y0=0, y1=3,
                           line=dict(color="#111", width=2.5, dash="dot"), layer="above"))

shapes.append(dict(type="rect", xref="paper", yref="paper", x0=px(10), x1=px(1259),
                   y0=py(473), y1=py(7), line=dict(color="#2e2e2e", width=4)))
shapes.append(dict(type="rect", xref="paper", yref="paper", x0=px(2), x1=px(1262),
                   y0=py(1020), y1=py(545), line=dict(color="#2e2e2e", width=3.5)))
fig.update_layout(shapes=shapes)

ann = []


def text(x, y, s, size, bold=True, angle=0, xref="paper", yref="paper"):
    ann.append(dict(x=x, y=y, xref=xref, yref=yref, text=s, showarrow=False,
                    textangle=angle, xanchor="center", yanchor="middle",
                    font=dict(family=FONT, size=size, color="#1a1a1a",
                              weight="bold" if bold else "normal")))


text(px(639), py(42), TITLE_TOP, 17)
text(px(211), py(61), CHROM_LABEL_TOP, 17)
text(px(661), py(429), X_TITLE, 20)
text(px(55), py(229), Y_TITLE, 20, angle=-90)
text(px(637), py(576), TITLE_BOT, 21)
text(px(200), py(591), CHROM_LABEL_BOT, 17)
text(px(660), py(986), X_TITLE, 21)
text(px(38), py(774), Y_TITLE, 21, angle=-90)

for i, name in enumerate(CHROMOSOMES):
    mid = (CHR_BOUNDS[i] + CHR_BOUNDS[i + 1]) / 2
    text(mid, py(80), name, 15, bold=False, xref="x", yref="paper")
    text(mid, py(615), name, 16, bold=False, xref="x2", yref="paper")

fig.update_layout(annotations=ann)

# make the graph fill the browser viewport exactly
PAGE_FIX = (
    "document.documentElement.style.overflow='hidden';"
    "document.documentElement.style.height='100%';"
    "document.body.style.margin='0px';document.body.style.height='100%';"
    "document.body.style.overflow='hidden';"
    "var g=document.getElementById('{plot_id}');"
    "g.style.position='fixed';g.style.left='0px';g.style.top='0px';"
    "g.style.width='100vw';g.style.height='100vh';"
    "Plotly.Plots.resize(g);"
)
fig.write_html("out.html", config={"displayModeBar": False, "responsive": True},
               post_script=PAGE_FIX)
